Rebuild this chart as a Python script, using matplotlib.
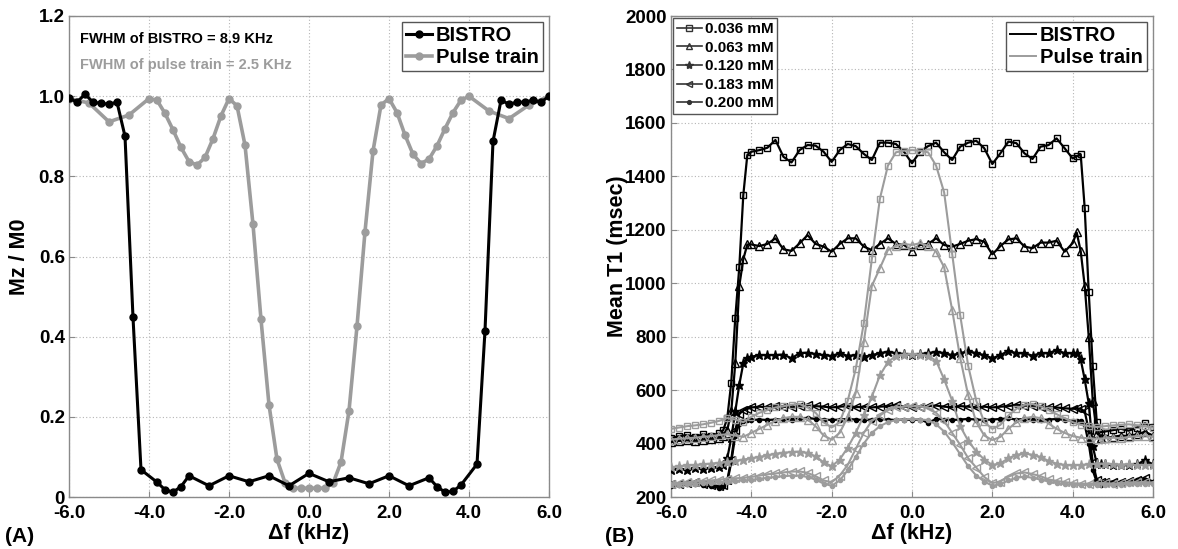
import matplotlib
matplotlib.use("Agg")
import matplotlib.pyplot as plt
from matplotlib.lines import Line2D

plt.rcParams['font.family'] = ['Liberation Sans', 'DejaVu Sans']
plt.rcParams['font.weight'] = 'bold'

# ---------------- Panel A data ----------------
bistro_a_f = [-6.0, -5.8, -5.6, -5.4, -5.2, -5.0, -4.8, -4.6, -4.4, -4.2, -3.8, -3.6, -3.4, -3.2, -3.0,
              -2.5, -2.0, -1.5, -1.0, -0.5, 0.0, 0.5, 1.0, 1.5, 2.0, 2.5, 3.0, 3.2, 3.4, 3.6, 3.8,
              4.2, 4.4, 4.6, 4.8, 5.0, 5.2, 5.4, 5.6, 5.8, 6.0]
bistro_a_mz = [0.995, 0.985, 1.005, 0.985, 0.982, 0.98, 0.985, 0.90, 0.448, 0.068, 0.037, 0.018, 0.012, 0.026, 0.053,
               0.028, 0.053, 0.038, 0.053, 0.028, 0.059, 0.038, 0.048, 0.033, 0.053, 0.028, 0.048, 0.026, 0.012, 0.014, 0.030,
               0.082, 0.415, 0.887, 0.99, 0.98, 0.985, 0.985, 0.99, 0.985, 1.0]

pulse_a_f = [-6.0, -5.5, -5.0, -4.5, -4.0, -3.8, -3.6, -3.4, -3.2, -3.0, -2.8, -2.6, -2.4, -2.2, -2.0,
             -1.8, -1.6, -1.4, -1.2, -1.0, -0.8, -0.6, -0.4, -0.2, 0.0, 0.2, 0.4, 0.6, 0.8, 1.0,
             1.2, 1.4, 1.6, 1.8, 2.0, 2.2, 2.4, 2.6, 2.8, 3.0, 3.2, 3.4, 3.6, 3.8, 4.0, 4.5, 5.0, 5.5, 6.0]
pulse_a_mz = [0.994, 0.983, 0.936, 0.953, 0.994, 0.99, 0.957, 0.916, 0.872, 0.837, 0.828, 0.847, 0.894, 0.951, 0.994,
              0.976, 0.878, 0.68, 0.443, 0.23, 0.094, 0.036, 0.022, 0.022, 0.022, 0.022, 0.022, 0.034, 0.087, 0.215,
              0.426, 0.662, 0.863, 0.978, 0.994, 0.959, 0.903, 0.855, 0.832, 0.843, 0.876, 0.919, 0.959, 0.99, 1.0,
              0.963, 0.944, 0.978, 1.0]

# ---------------- Panel B data ----------------
bistro_f = [-6.0, -5.8, -5.6, -5.4, -5.2, -5.0, -4.8,
            -4.7, -4.6, -4.5, -4.4, -4.3, -4.2, -4.1,
            -4.0, -3.8, -3.6, -3.4, -3.2, -3.0, -2.8, -2.6, -2.4, -2.2, -2.0,
            -1.8, -1.6, -1.4, -1.2, -1.0, -0.8, -0.6, -0.4, -0.2, 0.0,
            0.2, 0.4, 0.6, 0.8, 1.0, 1.2, 1.4, 1.6, 1.8, 2.0,
            2.2, 2.4, 2.6, 2.8, 3.0, 3.2, 3.4, 3.6, 3.8, 4.0,
            4.1, 4.2, 4.3, 4.4, 4.5, 4.6, 4.7,
            4.8, 5.0, 5.2, 5.4, 5.6, 5.8, 6.0]

bistro_036 = [420, 428, 432, 425, 435, 430, 438,
              450, 494, 628, 870, 1060, 1330, 1480,
              1492, 1498, 1507, 1536, 1473, 1452, 1498, 1517, 1515, 1492, 1454,
              1498, 1521, 1513, 1484, 1461, 1526, 1526, 1521, 1492, 1449,
              1492, 1513, 1526, 1490, 1461, 1511, 1526, 1533, 1505, 1446,
              1486, 1530, 1524, 1486, 1465, 1511, 1517, 1542, 1505, 1467,
              1475, 1482, 1280, 968, 690, 480, 442,
              445, 450, 455, 448, 460, 476, 462]
bistro_063 = [405, 410, 412, 408, 415, 418, 420,
              430, 450, 520, 700, 990, 1090, 1145,
              1145, 1139, 1147, 1168, 1127, 1121, 1149, 1180, 1147, 1137, 1118,
              1147, 1168, 1168, 1137, 1124, 1147, 1168, 1147, 1143, 1122,
              1143, 1147, 1168, 1143, 1137, 1147, 1159, 1165, 1155, 1108,
              1139, 1164, 1168, 1137, 1131, 1152, 1152, 1159, 1118, 1150,
              1190, 1120, 990, 800, 560, 440, 420,
              420, 425, 430, 428, 435, 444, 430]
bistro_120 = [300, 305, 302, 308, 305, 310, 312,
              318, 345, 420, 520, 620, 700, 722,
              725, 731, 731, 731, 733, 719, 738, 740, 735, 731, 728,
              738, 728, 731, 725, 731, 738, 744, 738, 735, 731,
              735, 738, 744, 738, 731, 738, 746, 738, 731, 719,
              731, 747, 738, 738, 729, 738, 738, 750, 738, 738,
              738, 715, 640, 550, 390, 325, 322,
              322, 318, 320, 318, 322, 338, 322]
bistro_183 = [248, 250, 252, 255, 250, 245, 240,
              245, 262, 340, 450, 510, 525, 530,
              535, 538, 536, 540, 538, 535, 540, 545, 540, 538, 535,
              538, 540, 536, 538, 535, 538, 540, 545, 538, 535,
              538, 540, 542, 538, 536, 540, 538, 535, 538, 535,
              538, 540, 545, 542, 540, 538, 536, 535, 532, 530,
              532, 530, 520, 450, 330, 265, 255,
              255, 258, 255, 260, 262, 270, 258]
bistro_200 = [242, 245, 248, 250, 245, 240, 235,
              240, 255, 330, 430, 475, 485, 488,
              488, 490, 488, 490, 492, 490, 495, 496, 492, 490, 488,
              490, 492, 490, 488, 490, 492, 490, 488, 490, 488,
              490, 478, 492, 490, 488, 490, 492, 490, 488, 490,
              492, 494, 490, 492, 490, 488, 490, 492, 488, 486,
              486, 484, 470, 400, 300, 255, 245,
              248, 250, 255, 258, 262, 265, 255]

pulse_f = [-6.0, -5.8, -5.6, -5.4, -5.2, -5.0, -4.8, -4.6, -4.4, -4.2, -4.0,
           -3.8, -3.6, -3.4, -3.2, -3.0, -2.8, -2.6, -2.4, -2.2, -2.0,
           -1.8, -1.6, -1.4, -1.2, -1.0, -0.8, -0.6, -0.4, -0.2, 0.0,
           0.2, 0.4, 0.6, 0.8, 1.0, 1.2, 1.4, 1.6, 1.8, 2.0,
           2.2, 2.4, 2.6, 2.8, 3.0, 3.2, 3.4, 3.6, 3.8, 4.0,
           4.2, 4.4, 4.6, 4.8, 5.0, 5.2, 5.4, 5.6, 5.8, 6.0]

pulse_036 = [455, 460, 465, 468, 472, 478, 485, 495, 490, 480, 500,
             515, 525, 535, 540, 545, 548, 535, 515, 480, 460,
             480, 560, 680, 850, 1090, 1316, 1440, 1490, 1496, 1498,
             1496, 1490, 1440, 1340, 1110, 880, 690, 560, 480, 455,
             470, 505, 530, 545, 548, 540, 525, 510, 495, 480,
             470, 465, 462, 465, 468, 470, 472, 468, 465, 460]
pulse_063 = [415, 418, 420, 422, 425, 428, 432, 435, 430, 425, 440,
             455, 470, 485, 495, 500, 500, 490, 465, 430, 415,
             440, 500, 590, 780, 990, 1056, 1124, 1139, 1147, 1143,
             1150, 1140, 1118, 1060, 900, 720, 580, 480, 430, 413,
             425, 455, 480, 495, 500, 495, 475, 455, 440, 428,
             422, 420, 418, 420, 422, 420, 425, 428, 430, 425]
pulse_120 = [311, 315, 318, 320, 322, 325, 328, 332, 336, 340, 345,
             350, 356, 362, 366, 368, 370, 365, 352, 330, 315,
             340, 385, 440, 505, 575, 655, 705, 728, 733, 735,
             733, 728, 710, 640, 560, 465, 410, 370, 340, 320,
             326, 345, 358, 363, 358, 350, 335, 325, 320, 318,
             320, 322, 325, 325, 322, 320, 322, 318, 320, 318]
pulse_183 = [250, 252, 255, 258, 260, 262, 265, 268, 270, 272, 275,
             280, 285, 288, 292, 295, 296, 290, 278, 262, 255,
             280, 320, 380, 440, 485, 505, 525, 535, 538, 540,
             538, 535, 515, 485, 440, 395, 345, 310, 275, 252,
             258, 276, 288, 292, 286, 278, 266, 260, 256, 252,
             250, 250, 252, 252, 250, 252, 255, 255, 256, 254]
pulse_200 = [245, 246, 248, 250, 252, 254, 256, 258, 260, 262, 264,
             268, 272, 275, 278, 280, 280, 275, 265, 250, 242,
             262, 300, 350, 400, 440, 465, 480, 488, 490, 492,
             490, 488, 472, 445, 405, 360, 315, 280, 258, 242,
             248, 262, 272, 276, 272, 265, 258, 252, 248, 246,
             245, 245, 246, 246, 245, 246, 248, 248, 250, 248]

conc_labels = ['0.036 mM', '0.063 mM', '0.120 mM', '0.183 mM', '0.200 mM']
x_ticks = [-6.0, -4.0, -2.0, 0.0, 2.0, 4.0, 6.0]
x_ticklabels = ['-6.0', '-4.0', '-2.0', '0.0', '2.0', '4.0', '6.0']
ya_ticks = [0, 0.2, 0.4, 0.6, 0.8, 1.0, 1.2]
ya_ticklabels = ['0', '0.2', '0.4', '0.6', '0.8', '1.0', '1.2']
yb_ticks = [200, 400, 600, 800, 1000, 1200, 1400, 1600, 1800, 2000]

GRAY = '#9c9c9c'
SPINE = '#8a8a8a'

fig = plt.figure(figsize=(11.78, 5.49), dpi=100)
axA = fig.add_axes([69 / 1178, 1 - 497 / 549, (549 - 69) / 1178, (497 - 16) / 549])
axB = fig.add_axes([671 / 1178, 1 - 497 / 549, (1153 - 671) / 1178, (497 - 16) / 549])


def style_axes(ax):
    ax.grid(True, linestyle=(0, (1, 2)), color='#b5b5b5', linewidth=0.8)
    ax.set_axisbelow(True)
    for s in ax.spines.values():
        s.set_color(SPINE)
        s.set_linewidth(1.0)
    ax.tick_params(direction='in', length=4, color=SPINE, labelsize=13.5, pad=3)
    ax.tick_params(axis='x', pad=6)
    for lab in ax.get_xticklabels() + ax.get_yticklabels():
        lab.set_fontweight('bold')


# Panel A
axA.plot(bistro_a_f, bistro_a_mz, '-o', color='black', lw=2.2, ms=5, label='BISTRO', zorder=3)
axA.plot(pulse_a_f, pulse_a_mz, '-o', color=GRAY, lw=2.6, ms=5, label='Pulse train', zorder=2)
axA.set_xlim(-6, 6)
axA.set_ylim(0, 1.2)
axA.set_xticks(x_ticks)
axA.set_xticklabels(x_ticklabels)
axA.set_yticks(ya_ticks)
axA.set_yticklabels(ya_ticklabels)
style_axes(axA)
axA.set_xlabel('\u0394f (kHz)', fontsize=15.5, fontweight='bold', labelpad=0.5)
axA.set_ylabel('Mz / M0', fontsize=15.5, fontweight='bold', labelpad=6)
axA.text(0.022, 0.952, 'FWHM of BISTRO = 8.9 KHz', transform=axA.transAxes, fontsize=10.5,
         fontweight='bold', color='black', va='center')
axA.text(0.022, 0.898, 'FWHM of pulse train = 2.5 KHz', transform=axA.transAxes, fontsize=10.5,
         fontweight='bold', color=GRAY, va='center')
legA = axA.legend(loc='upper right', fontsize=14.5, handlelength=1.3, handletextpad=0.2,
                  borderpad=0.2, labelspacing=0.15, borderaxespad=0.3, fancybox=False,
                  edgecolor='#555555', framealpha=1)
legA.get_frame().set_linewidth(1.0)
for t in legA.get_texts():
    t.set_fontweight('bold')

# Panel B
bistro_series = [bistro_036, bistro_063, bistro_120, bistro_183, bistro_200]
pulse_series = [pulse_036, pulse_063, pulse_120, pulse_183, pulse_200]
markers = ['s', '^', '*', '<', '.']
mfill = ['none', 'none', 'full', 'none', 'full']
msizes = [5, 5.5, 6.5, 5.5, 6]

for vals, mk, fill, ms in zip(bistro_series, markers, mfill, msizes):
    kw = dict(mfc='none') if fill == 'none' else {}
    axB.plot(bistro_f, vals, '-', marker=mk, color='black', lw=1.6, ms=ms, mew=1.0, zorder=3, **kw)
for vals, mk, fill, ms in zip(pulse_series, markers, mfill, msizes):
    kw = dict(mfc='none') if fill == 'none' else {}
    axB.plot(pulse_f, vals, '-', marker=mk, color=GRAY, lw=1.5, ms=ms, mew=1.0, zorder=4, **kw)

axB.set_xlim(-6, 6)
axB.set_ylim(200, 2000)
axB.set_xticks(x_ticks)
axB.set_xticklabels(x_ticklabels)
axB.set_yticks(yb_ticks)
style_axes(axB)
axB.set_xlabel('\u0394f (kHz)', fontsize=15.5, fontweight='bold', labelpad=0.5)
axB.set_ylabel('Mean T1 (msec)', fontsize=15.5, fontweight='bold', labelpad=-2)

conc_handles = []
for mk, fill, ms, lab in zip(markers, mfill, msizes, conc_labels):
    kw = dict(mfc='none') if fill == 'none' else {}
    conc_handles.append(Line2D([], [], color='#333333', marker=mk, lw=1.2, ms=ms - 0.5, mew=1.0, label=lab, **kw))
legC = axB.legend(handles=conc_handles, loc='upper left', fontsize=11, handlelength=1.6,
                  handletextpad=0.2, borderpad=0.25, labelspacing=0.3, borderaxespad=0.15,
                  fancybox=False, edgecolor='#555555', framealpha=1)
legC.get_frame().set_linewidth(1.0)
for t in legC.get_texts():
    t.set_fontweight('bold')
axB.add_artist(legC)

meth_handles = [Line2D([], [], color='black', lw=1.4, label='BISTRO'),
                Line2D([], [], color=GRAY, lw=1.4, label='Pulse train')]
legM = axB.legend(handles=meth_handles, loc='upper right', fontsize=14.5, handlelength=1.3,
                  handletextpad=0.2, borderpad=0.2, labelspacing=0.15, borderaxespad=0.3,
                  fancybox=False, edgecolor='#555555', framealpha=1)
legM.get_frame().set_linewidth(1.0)
for t in legM.get_texts():
    t.set_fontweight('bold')

fig.text(5 / 1178, 1 - 537 / 549, '(A)', fontsize=15, fontweight='bold', va='center', ha='left')
fig.text(605 / 1178, 1 - 537 / 549, '(B)', fontsize=15, fontweight='bold', va='center', ha='left')

fig.savefig('out.png', dpi=100)
